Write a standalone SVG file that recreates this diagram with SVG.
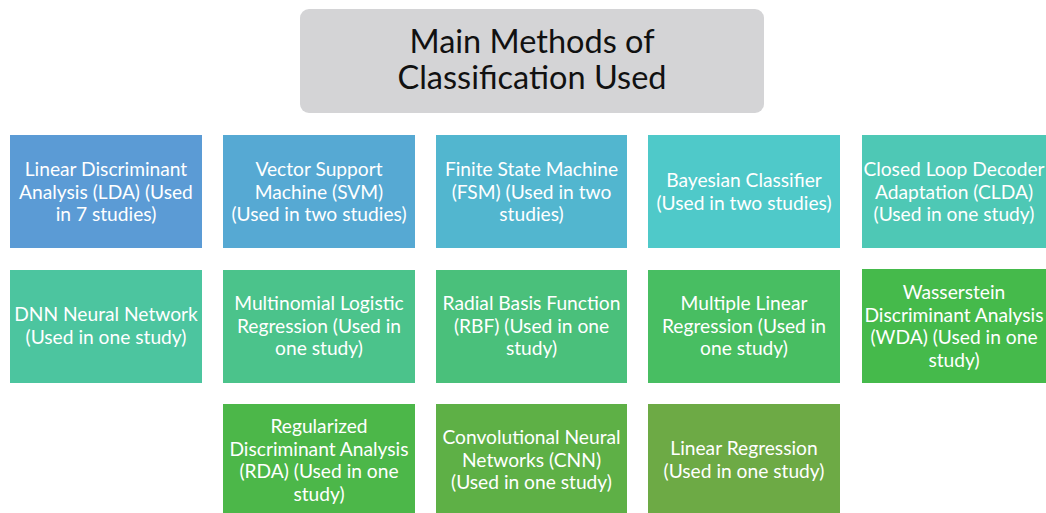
<svg xmlns="http://www.w3.org/2000/svg" width="1046" height="513" viewBox="0 0 1046 513">
  <style>
    .title { font-family: Lato, "Open Sans", "Liberation Sans", sans-serif; font-size: 32.5px; fill: #111111; text-anchor: middle; }
    .label { font-family: Lato, "Open Sans", "Liberation Sans", sans-serif; font-size: 19.2px; fill: #ffffff; text-anchor: middle; }
  </style>
  <rect width="1046" height="513" fill="#ffffff"/>

  <!-- heading -->
  <g id="title">
    <rect x="300" y="9" width="464" height="104" rx="9" fill="#d4d4d6"/>
    <text class="title" x="532" y="53">Main Methods of</text>
    <text class="title" x="532" y="89">Classification Used</text>
  </g>

  <!-- connectors: none drawn -->
  <g id="connectors"/>

  <!-- row 1 -->
  <g id="lda">
    <rect x="10" y="135" width="192" height="113" fill="#5b9bd5"/>
    <text class="label" x="106" y="176">Linear Discriminant</text>
    <text class="label" x="106" y="198.5">Analysis (LDA) (Used</text>
    <text class="label" x="106" y="221">in 7 studies)</text>
  </g>
  <g id="svm">
    <rect x="223" y="135" width="192" height="113" fill="#56a9d3"/>
    <text class="label" x="319" y="176">Vector Support</text>
    <text class="label" x="319" y="198.5">Machine (SVM)</text>
    <text class="label" x="319" y="221">(Used in two studies)</text>
  </g>
  <g id="fsm">
    <rect x="436" y="135" width="191" height="113" fill="#52b6cf"/>
    <text class="label" x="531.5" y="176">Finite State Machine</text>
    <text class="label" x="531.5" y="198.5">(FSM) (Used in two</text>
    <text class="label" x="531.5" y="221">studies)</text>
  </g>
  <g id="bayes">
    <rect x="648" y="135" width="192" height="113" fill="#4fc9c9"/>
    <text class="label" x="744" y="187">Bayesian Classifier</text>
    <text class="label" x="744" y="209.5">(Used in two studies)</text>
  </g>
  <g id="clda">
    <rect x="862" y="135" width="192" height="113" fill="#4ec8b5"/>
    <text class="label" x="954" y="176">Closed Loop Decoder</text>
    <text class="label" x="954" y="198.5">Adaptation (CLDA)</text>
    <text class="label" x="954" y="221">(Used in one study)</text>
  </g>

  <!-- row 2 -->
  <g id="dnn">
    <rect x="10" y="270" width="192" height="113" fill="#4cc59f"/>
    <text class="label" x="106" y="321">DNN Neural Network</text>
    <text class="label" x="106" y="343.5">(Used in one study)</text>
  </g>
  <g id="mlogr">
    <rect x="223" y="270" width="192" height="113" fill="#4bc38b"/>
    <text class="label" x="319" y="310">Multinomial Logistic</text>
    <text class="label" x="319" y="332.5">Regression (Used in</text>
    <text class="label" x="319" y="355">one study)</text>
  </g>
  <g id="rbf">
    <rect x="436" y="270" width="191" height="113" fill="#4ac07b"/>
    <text class="label" x="531.5" y="310">Radial Basis Function</text>
    <text class="label" x="531.5" y="332.5">(RBF) (Used in one</text>
    <text class="label" x="531.5" y="355">study)</text>
  </g>
  <g id="mlinr">
    <rect x="648" y="270" width="192" height="113" fill="#48be62"/>
    <text class="label" x="744" y="310">Multiple Linear</text>
    <text class="label" x="744" y="332.5">Regression (Used in</text>
    <text class="label" x="744" y="355">one study)</text>
  </g>
  <g id="wda">
    <rect x="862" y="269" width="192" height="114" fill="#45ba4b"/>
    <text class="label" x="954" y="299">Wasserstein</text>
    <text class="label" x="954" y="321.5">Discriminant Analysis</text>
    <text class="label" x="954" y="344">(WDA) (Used in one</text>
    <text class="label" x="954" y="366.5">study)</text>
  </g>

  <!-- row 3 -->
  <g id="rda">
    <rect x="223" y="404" width="192" height="113" fill="#4cb749"/>
    <text class="label" x="319" y="433">Regularized</text>
    <text class="label" x="319" y="455.5">Discriminant Analysis</text>
    <text class="label" x="319" y="478">(RDA) (Used in one</text>
    <text class="label" x="319" y="500.5">study)</text>
  </g>
  <g id="cnn">
    <rect x="436" y="404" width="191" height="113" fill="#5eb046"/>
    <text class="label" x="531.5" y="444">Convolutional Neural</text>
    <text class="label" x="531.5" y="466.5">Networks (CNN)</text>
    <text class="label" x="531.5" y="489">(Used in one study)</text>
  </g>
  <g id="linr">
    <rect x="648" y="404" width="192" height="113" fill="#6daa45"/>
    <text class="label" x="744" y="455">Linear Regression</text>
    <text class="label" x="744" y="477.5">(Used in one study)</text>
  </g>
</svg>
